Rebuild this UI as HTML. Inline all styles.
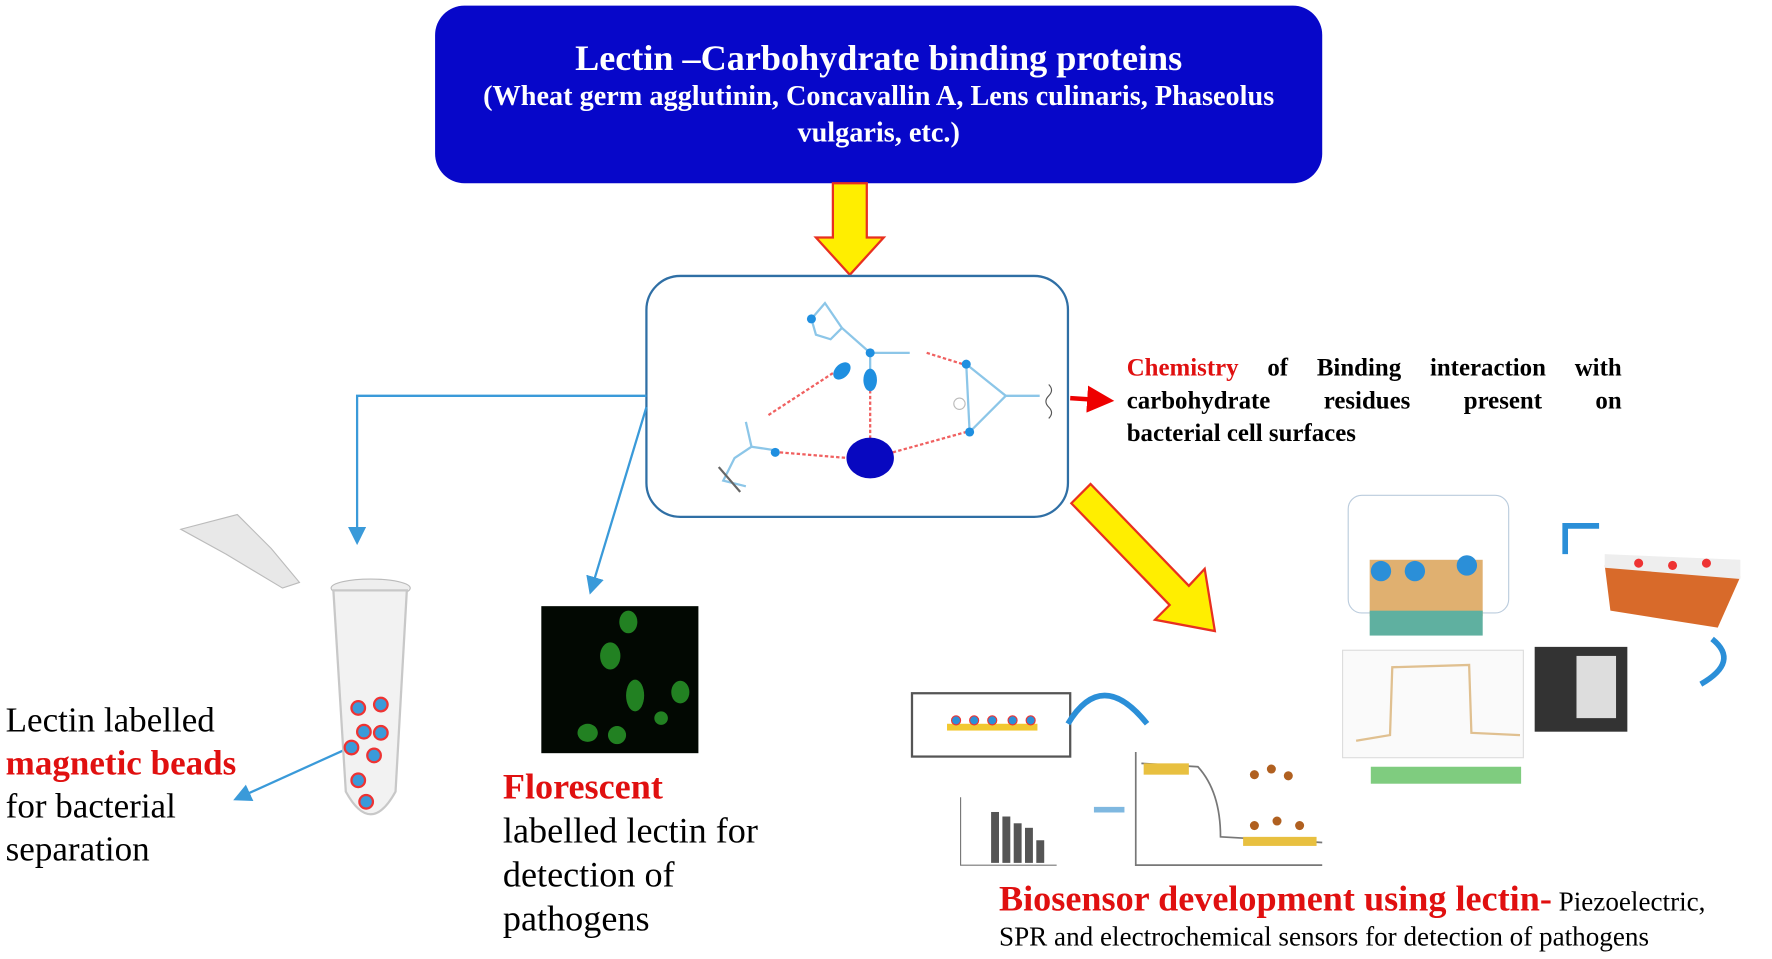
<!DOCTYPE html>
<html><head><meta charset="utf-8"><style>
html,body{margin:0;padding:0;background:#fff;width:1772px;height:959px;overflow:hidden}
#w{position:absolute;left:0;top:0;width:1568px;height:848px;transform-origin:0 0;transform:scale(1.1301,1.1309);font-family:"Liberation Serif",serif}
.t{position:absolute;white-space:nowrap}
.j{display:block;text-align:justify;text-align-last:justify;width:438px}
</style></head><body><div id="w">
<svg width="1568" height="848" style="position:absolute;left:0;top:0">
<defs><marker id="ab" markerWidth="8" markerHeight="8" refX="6" refY="4" orient="auto"><path d="M0,0 L8,4 L0,8 Z" fill="#3a9ad9"/></marker>
<marker id="ar" markerWidth="6" markerHeight="6" refX="4" refY="3" orient="auto"><path d="M0,0 L6,3 L0,6 Z" fill="#e00"/></marker></defs>
<rect x="385" y="5" width="785" height="157" rx="26" fill="#0707c9"/>
<path d="M737,162 L767,162 L767,210 L782,210 L752,243 L722,210 L737,210 Z" fill="#ffee00" stroke="#e83020" stroke-width="2"/>
<rect x="572" y="244" width="373" height="213" rx="30" fill="#fff" stroke="#2f6fa5" stroke-width="2"/>
<g stroke="#8cc6e8" stroke-width="2" fill="none">
<path d="M718,282 L730,268 L745,290 L735,300 L722,296 Z"/><path d="M745,290 L770,312"/>
<path d="M770,312 L770,340"/><path d="M770,312 L805,312"/>
<path d="M855,322 L890,350 L920,350"/><path d="M855,322 L858,382 L890,350"/>
<path d="M660,373 L665,395 L650,405 L640,425 L660,430"/><path d="M665,395 L685,398"/>
</g>
<g stroke="#f06060" stroke-width="2" stroke-dasharray="3,2" fill="none">
<path d="M680,367 L740,328"/><path d="M770,345 L770,395"/><path d="M820,312 L852,322"/>
<path d="M690,400 L750,405"/><path d="M790,400 L855,382"/>
</g>
<g fill="#1f8fe0"><circle cx="718" cy="282" r="4"/><circle cx="770" cy="312" r="4"/><ellipse cx="745" cy="328" rx="6" ry="9" transform="rotate(45 745 328)"/><ellipse cx="770" cy="336" rx="6" ry="10"/><circle cx="855" cy="322" r="4"/><circle cx="858" cy="382" r="4"/><circle cx="686" cy="400" r="4"/></g>
<circle cx="849" cy="357" r="5" fill="none" stroke="#bbb"/>
<ellipse cx="770" cy="405" rx="21" ry="18" fill="#0808c0"/>
<path d="M928,340 q5,5 0,10 q-5,5 0,10 q5,5 0,10" stroke="#555" fill="none"/>
<path d="M636,413 L655,435" stroke="#666" stroke-width="2"/>
<path d="M947,352 L978,354" stroke="#e00" stroke-width="4" marker-end="url(#ar)"/>
<path d="M572,350 L316,350 L316,478" stroke="#3a9ad9" stroke-width="2" fill="none" marker-end="url(#ab)"/>
<path d="M572,360 L523,522" stroke="#3a9ad9" stroke-width="2" fill="none" marker-end="url(#ab)"/>
<path d="M305,663 L210,706" stroke="#3a9ad9" stroke-width="2" fill="none" marker-end="url(#ab)"/>
<path d="M948,445 L965,428 L1052,518 L1066,503 L1075,558 L1022,548 L1035,535 Z" fill="#ffee00" stroke="#e83020" stroke-width="2"/>
<path d="M160,468 L210,455 L240,485 L265,515 L250,520 L200,490 Z" fill="#e8e8e8" stroke="#bbb"/>
<ellipse cx="328" cy="520" rx="35" ry="8" fill="#eee" stroke="#bbb"/>
<path d="M295,522 L360,522 L350,700 Q328,740 306,700 Z" fill="#f2f2f2" stroke="#c8c8c8" stroke-width="2"/>
<g fill="#3a9ad9" stroke="#e33" stroke-width="2"><circle cx="317" cy="626" r="6"/><circle cx="337" cy="623" r="6"/><circle cx="322" cy="647" r="6"/><circle cx="337" cy="648" r="6"/><circle cx="311" cy="661" r="6"/><circle cx="331" cy="668" r="6"/><circle cx="317" cy="690" r="6"/><circle cx="324" cy="709" r="6"/></g>
<rect x="479" y="536" width="139" height="130" fill="#020802"/>
<g fill="#2aa02a" opacity="0.8"><ellipse cx="556" cy="550" rx="8" ry="10"/><ellipse cx="540" cy="580" rx="9" ry="12"/><ellipse cx="562" cy="615" rx="8" ry="14"/><ellipse cx="520" cy="648" rx="9" ry="8"/><ellipse cx="546" cy="650" rx="8" ry="8"/><ellipse cx="602" cy="612" rx="8" ry="10"/><ellipse cx="585" cy="635" rx="6" ry="6"/></g>
<rect x="1193" y="438" width="142" height="104" rx="12" fill="#fff" stroke="#bcd"/>
<rect x="1212" y="495" width="100" height="50" fill="#e0b070"/><rect x="1212" y="540" width="100" height="22" fill="#5fb0a0"/>
<g fill="#2b8fd8"><circle cx="1222" cy="505" r="9"/><circle cx="1252" cy="505" r="9"/><circle cx="1298" cy="500" r="9"/></g>
<path d="M1385,490 L1385,465 L1415,465" stroke="#2b8fd8" stroke-width="5" fill="none"/>
<path d="M1420,500 L1540,510 L1520,555 L1425,540 Z" fill="#d86a2a"/><path d="M1420,490 L1540,495 L1540,512 L1420,502 Z" fill="#eee"/>
<g fill="#e33"><circle cx="1450" cy="498" r="4"/><circle cx="1480" cy="500" r="4"/><circle cx="1510" cy="498" r="4"/></g>
<path d="M1515,565 Q1540,585 1505,605" stroke="#2b8fd8" stroke-width="5" fill="none"/>
<rect x="1188" y="575" width="160" height="95" fill="#fafafa" stroke="#ddd"/>
<path d="M1200,655 L1230,650 L1232,590 L1300,588 L1302,648 L1345,650" stroke="#e0c090" stroke-width="2" fill="none"/>
<rect x="1213" y="678" width="133" height="15" fill="#7fcc7f"/>
<rect x="1358" y="572" width="82" height="75" fill="#333"/><rect x="1395" y="580" width="35" height="55" fill="#ddd"/>
<rect x="807" y="613" width="140" height="56" fill="#fff" stroke="#555" stroke-width="2"/>
<rect x="838" y="640" width="80" height="6" fill="#f2c830"/>
<g fill="#2b8fd8" stroke="#e33"><circle cx="846" cy="637" r="4"/><circle cx="862" cy="637" r="4"/><circle cx="878" cy="637" r="4"/><circle cx="896" cy="637" r="4"/><circle cx="912" cy="637" r="4"/></g>
<path d="M945,640 Q975,590 1015,640" stroke="#2b8fd8" stroke-width="5" fill="none"/>
<path d="M1005,665 L1005,765 L1170,765 M1010,675 L1060,678 Q1080,700 1080,740 L1170,745" stroke="#777" stroke-width="1.5" fill="none"/>
<rect x="1012" y="675" width="40" height="10" fill="#e8c040"/><rect x="1100" y="740" width="65" height="8" fill="#e8c040"/>
<g fill="#b06020"><circle cx="1110" cy="685" r="4"/><circle cx="1125" cy="680" r="4"/><circle cx="1140" cy="686" r="4"/><circle cx="1110" cy="730" r="4"/><circle cx="1130" cy="726" r="4"/><circle cx="1150" cy="730" r="4"/></g>
<path d="M995,716 L968,716" stroke="#7fb8e0" stroke-width="5"/>
<path d="M850,705 L850,765 L935,765" stroke="#777" fill="none"/>
<g fill="#555"><rect x="877" y="718" width="7" height="45"/><rect x="887" y="722" width="7" height="41"/><rect x="897" y="728" width="7" height="35"/><rect x="907" y="732" width="7" height="31"/><rect x="917" y="743" width="7" height="20"/></g>
</svg>
<div class="t" style="left:385px;width:785px;text-align:center;top:33px;color:#fff;font-weight:bold;font-size:32px">Lectin –Carbohydrate binding proteins</div>
<div class="t" style="left:385px;width:785px;text-align:center;top:70px;color:#fff;font-weight:bold;font-size:25px;line-height:32px;white-space:normal">(Wheat germ agglutinin, Concavallin A, Lens culinaris, Phaseolus<br>vulgaris, etc.)</div>
<div class="t" style="left:997px;top:310px;font-weight:bold;font-size:22px;line-height:29px">
<span class="j"><span style="color:#e01010">Chemistry</span> of Binding interaction with</span>
<span class="j">carbohydrate residues present on</span>
<span style="display:block">bacterial cell surfaces</span></div>
<div class="t" style="left:5px;top:618px;font-size:31px;line-height:38px">Lectin labelled<br><b style="color:#e01010">magnetic beads</b><br>for bacterial<br>separation</div>
<div class="t" style="left:445px;top:676px;font-size:32px;line-height:39px"><b style="color:#e01010">Florescent</b><br>labelled lectin for<br>detection of<br>pathogens</div>
<div class="t" style="left:884px;top:779px;font-size:24px;line-height:31px"><b style="color:#e01010;font-size:32px">Biosensor development using lectin-</b> Piezoelectric,<br>SPR and electrochemical sensors for detection of pathogens</div>
</div></body></html>
